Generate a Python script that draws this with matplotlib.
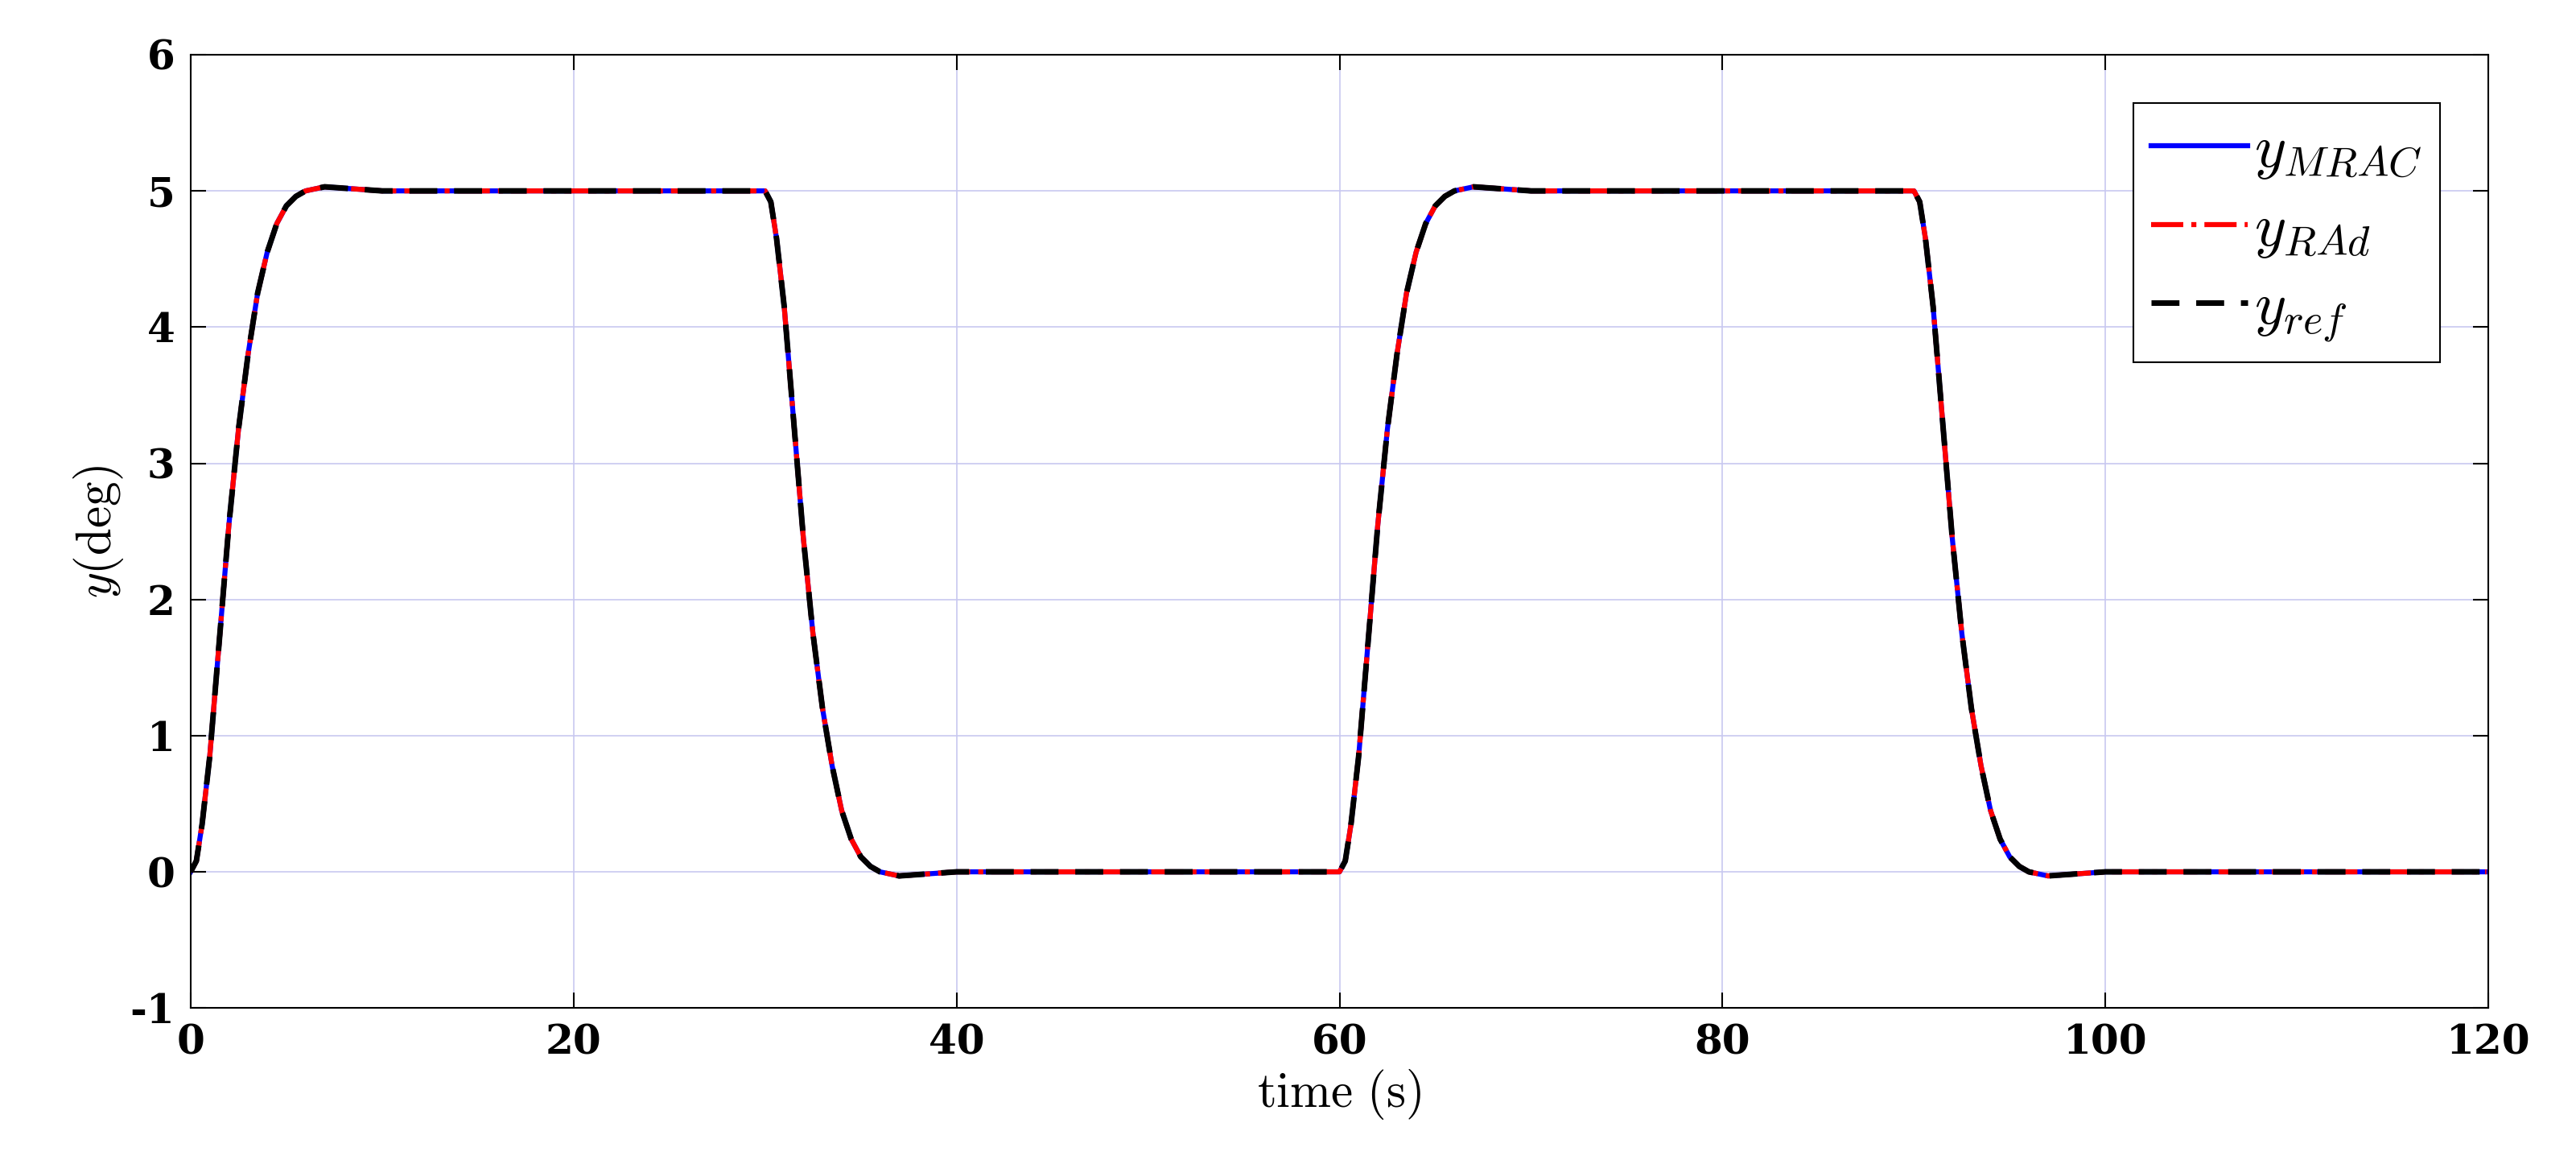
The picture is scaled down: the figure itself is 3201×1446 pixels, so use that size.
import matplotlib
matplotlib.use("Agg")
import matplotlib.pyplot as plt
import numpy as np

plt.rcParams['mathtext.fontset'] = 'cm'
plt.rcParams['axes.unicode_minus'] = False

# Response segments
rise_t = [0, 0.3, 0.6, 1.0, 1.5, 2.0, 2.5, 3.0, 3.5, 4.0, 4.5, 5.0, 5.5, 6.0, 7.0, 8.0, 9.0, 10.0, 12.0]
rise_y = [0, 0.08, 0.35, 0.85, 1.7, 2.55, 3.25, 3.8, 4.25, 4.55, 4.76, 4.89, 4.96, 5.0, 5.03, 5.02, 5.01, 5.0, 5.0]
fall_y = [5, 4.92, 4.65, 4.15, 3.3, 2.45, 1.75, 1.2, 0.78, 0.45, 0.24, 0.11, 0.04, 0.0, -0.03, -0.02, -0.01, 0.0, 0.0]

time = []
y_ref = []
for start, seg in [(0, rise_y), (30, fall_y), (60, rise_y), (90, fall_y)]:
    time += [start + t for t in rise_t]
    y_ref += seg
    time += [start + 29.9]
    y_ref += [seg[-1]]
time = np.array(time)
y_ref = np.array(y_ref)
y_mrac = y_ref.copy()
y_rad = y_ref.copy()

xticks = [0, 20, 40, 60, 80, 100, 120]
yticks = [-1, 0, 1, 2, 3, 4, 5, 6]

fig = plt.figure(figsize=(32.01, 14.46), dpi=100)
ax = fig.add_axes([0.074, 0.134, 0.892, 0.819])
ax.plot(time, y_mrac, color='blue', lw=4.5, label=r'$y_{MRAC}$')
ax.plot(time, y_rad, color='red', lw=4.5, ls='-.', label=r'$y_{RAd}$')
ax.plot(time, y_ref, color='black', lw=5, ls=(0, (5, 3)), label=r'$y_{ref}$')
ax.set_xlim(0, 120)
ax.set_ylim(-1, 6)
ax.set_xticks(xticks)
ax.set_yticks(yticks)
ax.grid(True, color='#c8c8f0', lw=1.2)
ax.tick_params(direction='in', length=14, width=1.5, labelsize=36, pad=14, top=True, right=True)
for lab in ax.get_xticklabels() + ax.get_yticklabels():
    lab.set_fontweight('bold')
    lab.set_family('DejaVu Serif')
for s in ax.spines.values():
    s.set_linewidth(1.5)
ax.set_xlabel(r'$\mathrm{time\ (s)}$', fontsize=44)
ax.set_ylabel(r'$y(\mathrm{deg})$', fontsize=44)
leg = ax.legend(loc='upper right', fontsize=54, fancybox=False, edgecolor='black',
                framealpha=1, handlelength=1.6, handletextpad=0.1, borderpad=0.3,
                borderaxespad=0.8, labelspacing=0.3)
leg.get_frame().set_linewidth(1.5)
fig.savefig('out.png', dpi=100)
